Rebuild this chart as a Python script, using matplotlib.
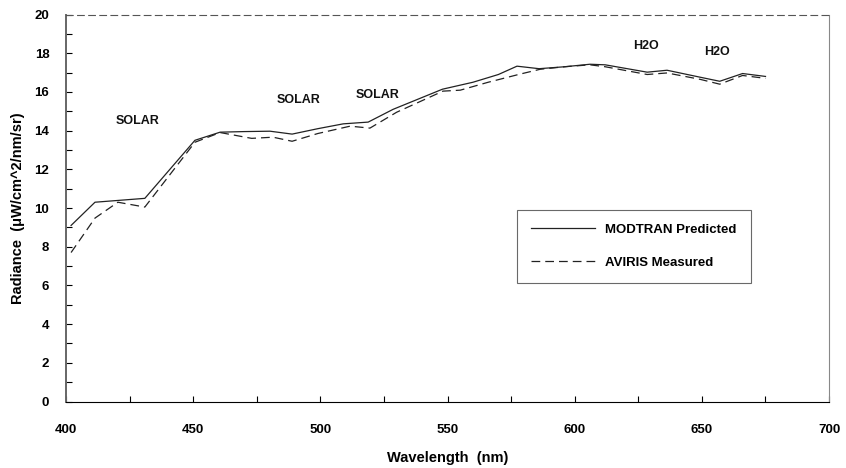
import matplotlib.pyplot as plt
from matplotlib.ticker import MultipleLocator

plt.rcParams['font.family'] = ['Liberation Sans', 'DejaVu Sans']

# MODTRAN predicted (solid)
wl_model = [402, 411.4, 431, 450.7, 460.6, 470, 480.2, 488.9, 499, 509, 518.8, 528.6, 548, 560, 570, 577.3,
            586, 596, 606, 612, 628.5, 636.3, 649.3, 657, 666, 675]
rad_model = [9.1, 10.3, 10.5, 13.5, 13.92, 13.95, 13.97, 13.82, 14.1, 14.35, 14.44, 15.1, 16.14, 16.5, 16.9, 17.33,
             17.2, 17.3, 17.43, 17.4, 17.02, 17.12, 16.76, 16.55, 16.95, 16.8]

# AVIRIS measured (dashed)
wl_meas = [402, 411.4, 420.4, 431, 450.7, 460.6, 473, 481.4, 488.9, 499, 511.7, 519.5, 530, 548.2, 555, 566, 578.5,
           586.4, 596, 606, 612, 628.5, 636.3, 649.3, 657, 666, 675]
rad_meas = [7.7, 9.48, 10.3, 10.05, 13.4, 13.9, 13.6, 13.66, 13.45, 13.85, 14.23, 14.13, 14.95, 16.04, 16.09, 16.5, 16.92,
            17.17, 17.3, 17.4, 17.3, 16.9, 16.98, 16.65, 16.4, 16.85, 16.7]

notes = ['SOLAR', 'SOLAR', 'SOLAR', 'H2O', 'H2O']
note_x = [428, 491.5, 522.5, 628, 656]
note_y = [14.5, 15.6, 15.85, 18.35, 18.05]

fig = plt.figure(figsize=(8.46, 4.68), dpi=100)
ax = fig.add_axes([0.078, 0.142, 0.902, 0.827])

ax.plot(wl_model, rad_model, color='#222222', lw=0.9, label='MODTRAN Predicted')
ax.plot(wl_meas, rad_meas, color='#222222', lw=0.9, linestyle=(0, (7, 4)), label='AVIRIS Measured')

for t, x, y in zip(notes, note_x, note_y):
    ax.text(x, y, t, ha='center', va='center', fontsize=9, fontweight='bold', color='#111111')

ax.set_xlim(400, 700)
ax.set_ylim(0, 20)
ax.xaxis.set_major_locator(MultipleLocator(50))
ax.xaxis.set_minor_locator(MultipleLocator(25))
ax.yaxis.set_major_locator(MultipleLocator(2))
ax.yaxis.set_minor_locator(MultipleLocator(1))
ax.tick_params(which='both', direction='in', length=4, width=0.8, top=False, right=False)
ax.tick_params(axis='x', which='major', labelsize=9.5, pad=16)
ax.tick_params(axis='y', which='major', labelsize=9.5, pad=12)
for lab in ax.get_xticklabels() + ax.get_yticklabels():
    lab.set_fontweight('bold')

ax.set_xlabel('Wavelength  (nm)', fontsize=10.5, fontweight='bold', labelpad=11)
ax.set_ylabel('Radiance  (\u03bcW/cm^2/nm/sr)', fontsize=10.5, fontweight='bold', labelpad=7)

ax.spines['top'].set_linestyle((0, (6, 4)))
ax.spines['top'].set_color('#555555')
ax.spines['right'].set_color('#888888')
ax.spines['left'].set_color('#666666')
ax.spines['left'].set_linewidth(1.4)
for s in ['top', 'right', 'bottom']:
    ax.spines[s].set_linewidth(0.8)

leg = ax.legend(loc='upper left', bbox_to_anchor=(0.591, 0.495), frameon=True,
                fancybox=False, handlelength=4.9, borderpad=1.05, labelspacing=1.55, handletextpad=0.75,
                borderaxespad=0, prop={'weight': 'bold', 'size': 9.5})
leg.get_frame().set_edgecolor('#444444')
leg.get_frame().set_linewidth(0.8)

fig.savefig('out.png', dpi=100)
